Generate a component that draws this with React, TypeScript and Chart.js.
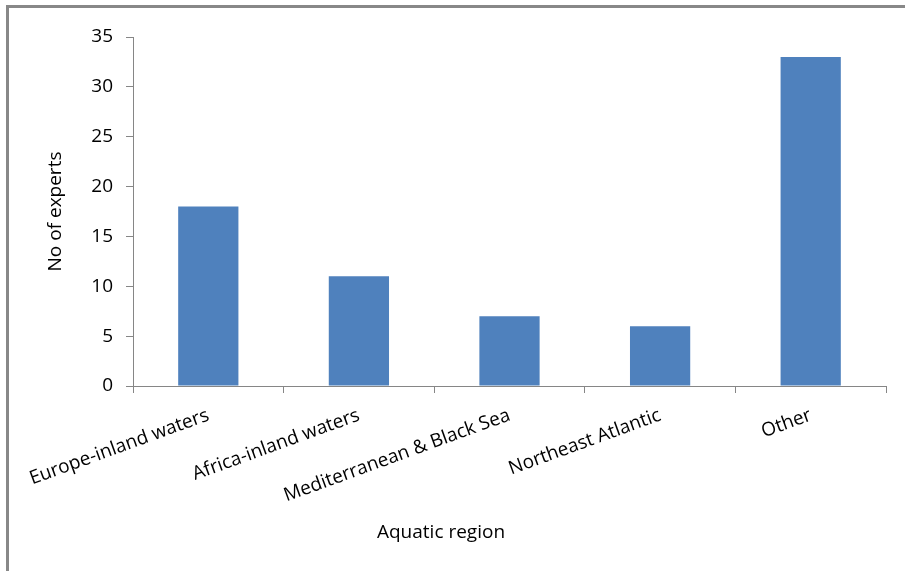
import React, { useEffect, useRef } from "react";
import { Chart, registerables } from "chart.js";

Chart.register(...registerables);

const categories = [
  "Europe-inland waters",
  "Africa-inland waters",
  "Mediterranean & Black Sea",
  "Northeast Atlantic",
  "Other",
];
const experts = [18, 11, 7, 6, 33];
const yTicks = [0, 5, 10, 15, 20, 25, 30, 35];

const FONT = "'Open Sans', sans-serif";
const AXIS_GREY = "#868686";
const FRAME_GREY = "#888888";
const BAR_BLUE = "#4F81BD";

// Outer frame (top and left edges) plus the x-axis caption.
const decorations = {
  id: "decorations",
  beforeDraw(chart: Chart) {
    const { ctx, width, height } = chart;
    ctx.save();
    ctx.fillStyle = "#ffffff";
    ctx.fillRect(0, 0, width, height);
    ctx.fillStyle = FRAME_GREY;
    ctx.fillRect(6, 5, width - 6, 3);
    ctx.fillRect(6, 5, 3, height - 5);
    ctx.restore();
  },
  afterDraw(chart: Chart) {
    const { ctx } = chart;
    ctx.save();
    ctx.fillStyle = "#000000";
    ctx.font = `19px ${FONT}`;
    ctx.textAlign = "center";
    ctx.textBaseline = "alphabetic";
    ctx.fillText("Aquatic region", 441, 538);
    ctx.restore();
  },
};

export default function App() {
  const canvasRef = useRef<HTMLCanvasElement | null>(null);

  useEffect(() => {
    if (!canvasRef.current) return;
    const chart = new Chart(canvasRef.current, {
      type: "bar",
      data: {
        labels: categories,
        datasets: [
          {
            label: "No of experts",
            data: experts,
            backgroundColor: BAR_BLUE,
            borderWidth: 0,
            categoryPercentage: 1,
            barPercentage: 0.4,
          },
        ],
      },
      plugins: [decorations],
      options: {
        animation: false,
        responsive: false,
        maintainAspectRatio: false,
        layout: { padding: { top: 37, right: 19, left: 0, bottom: 0 } },
        plugins: {
          legend: { display: false },
          tooltip: { enabled: false },
          title: { display: false },
        },
        scales: {
          x: {
            afterFit(scale: any) {
              scale.height = 185;
            },
            grid: {
              offset: true,
              drawOnChartArea: false,
              drawTicks: true,
              tickLength: 7,
              color: AXIS_GREY,
            },
            border: { display: true, color: AXIS_GREY, width: 1 },
            ticks: {
              autoSkip: false,
              minRotation: 20,
              maxRotation: 20,
              padding: 11,
              color: "#000000",
              font: { family: FONT, size: 19 },
            },
          },
          y: {
            min: 0,
            max: 35,
            afterFit(scale: any) {
              scale.width = 133;
            },
            afterBuildTicks(scale: any) {
              scale.ticks = yTicks.map((v) => ({ value: v }));
            },
            grid: {
              drawOnChartArea: false,
              drawTicks: true,
              tickLength: 7,
              color: AXIS_GREY,
            },
            border: { display: true, color: AXIS_GREY, width: 1 },
            ticks: {
              padding: 13,
              color: "#000000",
              font: { family: FONT, size: 19 },
            },
            title: {
              display: true,
              text: "No of experts",
              color: "#000000",
              font: { family: FONT, size: 19 },
              padding: { top: 44, bottom: 0 },
            },
          },
        },
      },
    });
    return () => chart.destroy();
  }, []);

  return (
    <div style={{ position: "fixed", left: 0, top: 0, width: 905, height: 571 }}>
      <canvas ref={canvasRef} width={905} height={571} style={{ display: "block" }} />
    </div>
  );
}
